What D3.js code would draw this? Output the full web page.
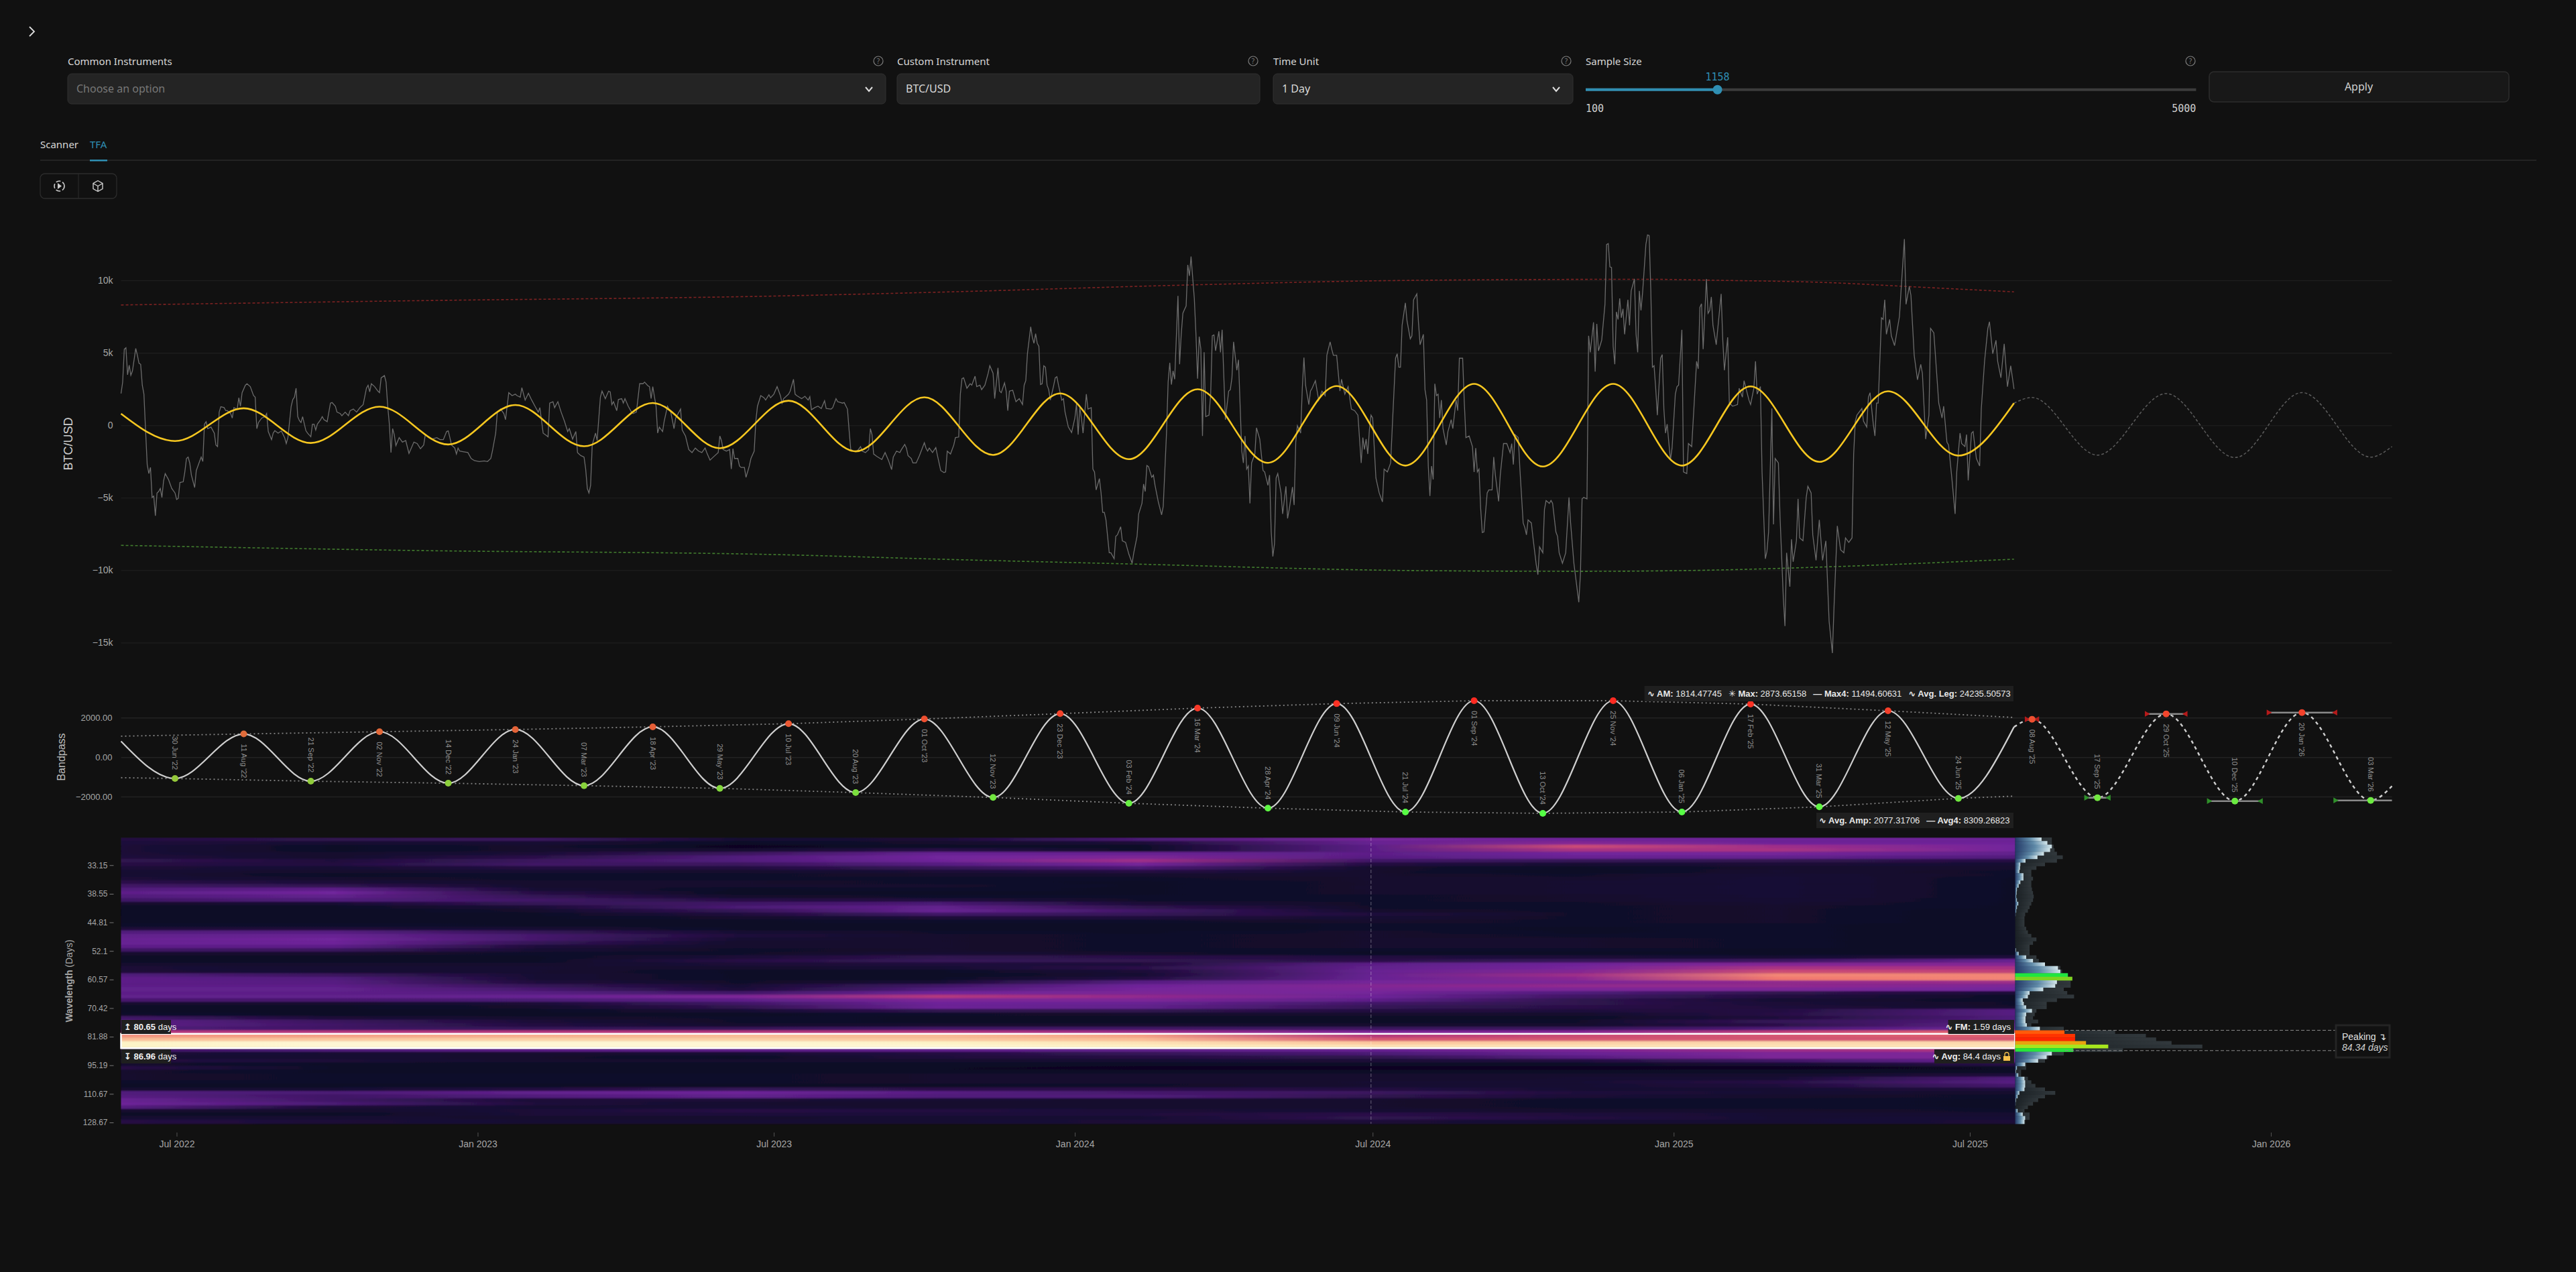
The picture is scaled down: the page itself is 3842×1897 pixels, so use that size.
<!DOCTYPE html>
<html>
<head>
<meta charset="utf-8">
<title>BTC/USD TFA</title>
<script src="https://cdnjs.cloudflare.com/ajax/libs/d3/7.8.5/d3.min.js"></script>
<style>
  html, body { margin: 0; padding: 0; background: #111; overflow: hidden; }
  svg { display: block; }
  text { font-family: "Liberation Sans", "DejaVu Sans", sans-serif; }
  .ui text, text.ui { font-family: "Noto Sans", sans-serif; }
  .mono { font-family: "DejaVu Sans Mono", monospace !important; }
  .tick text { font-family: "Liberation Sans", sans-serif; }
</style>
</head>
<body>
<div id="chart"></div>
<script>
// [day since the first sample, detrended price]
const priceSeries = [
[0,2190],[1,2975],[2,5250],[3,5350],[4,3490],[5,4150],[6,3450],[7,3760],[9,5310],[10,4830],[11,4280],[12,4210],[13,2770],[14,2150],[15,-330],[16,-2710],[17,-3330],[18,-2910],[19,-4980],[20,-4880],[21,-6240],[22,-4670],[23,-4570],[24,-4360],[25,-4980],[26,-3840],[27,-3330],[29,-3740],[30,-4050],[31,-4360],[33,-4670],[34,-5120],[35,-5040],[36,-3950],[38,-3900],[39,-3220],[40,-2290],[41,-2190],[42,-2600],[43,-3430],[45,-4300],[46,-3120],[48,-2500],[49,-2190],[50,-2500],[51,80],[52,250],[53,-230],[55,-120],[57,-540],[58,-1360],[59,-1470],[60,910],[61,1280],[63,1220],[64,1010],[65,1010],[67,810],[68,500],[69,1220],[71,1120],[72,1900],[73,1320],[74,2250],[76,2770],[77,2870],[79,2670],[81,2050],[82,1940],[83,-230],[84,190],[86,500],[88,600],[89,810],[90,-430],[92,-990],[93,-540],[94,-370],[96,-540],[98,-390],[100,-850],[101,-1260],[102,-850],[104,1320],[105,1780],[106,1940],[107,2560],[108,600],[109,330],[110,190],[111,600],[113,-370],[114,-540],[116,-790],[117,80],[118,80],[119,-330],[120,80],[122,390],[123,600],[124,390],[126,250],[128,1530],[129,1570],[131,1320],[132,910],[134,810],[135,660],[137,910],[139,660],[140,1010],[142,1120],[144,910],[146,1220],[148,1430],[150,2560],[151,2770],[152,2310],[153,2870],[155,2670],[157,2360],[158,2250],[159,3280],[161,3430],[162,2980],[163,1320],[164,80],[165,-1880],[166,-230],[167,-640],[168,-1400],[170,-850],[172,-1160],[174,-1050],[176,-1940],[179,-1160],[181,-1260],[183,-1610],[185,-1360],[186,-640],[188,-850],[190,-950],[193,-850],[195,-990],[197,-990],[199,-430],[200,-390],[201,-850],[202,-1360],[204,-1570],[205,-1980],[206,-1570],[207,-1780],[209,-1820],[212,-1880],[214,-2290],[216,-2440],[219,-2500],[222,-2460],[224,-2500],[226,-2290],[227,-1780],[229,-540],[230,910],[232,1120],[234,810],[235,390],[237,2250],[238,2150],[239,2050],[241,2150],[242,2050],[244,1940],[245,2600],[247,1740],[249,2210],[251,1740],[253,1320],[255,910],[256,1220],[258,-540],[260,-700],[261,-790],[262,1530],[264,1630],[265,1220],[267,1630],[269,910],[271,290],[273,-430],[274,-230],[276,-950],[278,-430],[279,-1880],[281,-2090],[283,-2190],[284,-3020],[285,-4360],[286,-4670],[287,-4150],[288,-1360],[290,-540],[291,-1050],[293,1940],[294,2360],[296,1840],[298,2360],[299,2310],[300,1430],[301,1630],[303,1010],[304,1780],[306,1840],[307,1530],[308,1840],[310,1320],[312,910],[313,810],[315,910],[317,2870],[319,2870],[320,2980],[322,2730],[323,2670],[324,1840],[325,2670],[327,1320],[328,-540],[329,-120],[331,-430],[332,290],[334,1320],[336,910],[338,-230],[339,500],[342,1120],[343,-330],[345,-740],[347,-1670],[349,-1880],[351,-1570],[353,-1780],[355,-1880],[357,-1570],[358,-1880],[360,-2400],[362,-2190],[365,-1880],[366,-740],[367,-1050],[368,-1670],[370,-1780],[372,-1670],[373,-3020],[374,-1610],[375,-2290],[377,-2290],[378,-2810],[379,-2910],[381,-2910],[382,-3590],[384,-2810],[385,-2290],[387,-1780],[388,290],[389,1320],[391,2050],[393,1900],[394,1740],[396,2110],[397,1900],[399,2150],[401,2670],
[403,2050],[404,1530],[405,1840],[408,2150],[409,2360],[411,3180],[412,2150],[413,2050],[416,1840],[418,2000],[420,1740],[421,1980],[422,1070],[424,1220],[426,1320],[428,1160],[430,1690],[431,1160],[434,1120],[435,1220],[437,1840],[438,1630],[441,1530],[442,1570],[444,1120],[445,-330],[446,-1670],[448,-1780],[450,-1780],[452,-1470],[453,-1780],[455,-1880],[457,-1670],[458,-230],[459,-640],[460,-1980],[462,-2150],[464,-2290],[465,-2360],[467,-1880],[469,-2400],[471,-3060],[472,-2190],[474,-1780],[476,-1880],[477,-1670],[479,-1320],[480,-1570],[481,-2090],[483,-2290],[484,-2600],[486,-2600],[488,-2090],[491,-1200],[492,-1570],[493,-1780],[494,-1570],[496,-1880],[498,-1530],[499,-2090],[501,-3120],[503,-3260],[504,-3220],[505,-1780],[507,-1980],[509,-1360],[510,-850],[512,-810],[513,2150],[514,3220],[515,3280],[517,2560],[519,2870],[520,2770],[522,3390],[523,2670],[525,2770],[526,2460],[528,2770],[530,3590],[531,4110],[533,3590],[534,1840],[536,3970],[537,2360],[538,2250],[540,2930],[541,2360],[542,1010],[543,2360],[545,2420],[547,1630],[549,1840],[551,1430],[552,2770],[553,3080],[554,4940],[556,6800],[557,6070],[558,5660],[559,6320],[560,5660],[561,5450],[562,2810],[563,2870],[564,4110],[565,4010],[566,2770],[567,2460],[568,1740],[570,2730],[571,3280],[572,3350],[573,2770],[575,1740],[576,1840],[577,910],[579,-120],[581,-500],[583,500],[584,1490],[585,-640],[586,1220],[587,500],[588,-540],[590,2150],[591,1120],[593,1220],[594,-3020],[595,-3220],[596,-4460],[598,-3680],[599,-4670],[600,-6010],[601,-6010],[602,-6530],[604,-8800],[605,-8800],[607,-9210],[608,-7660],[609,-7560],[611,-7000],[612,-7970],[614,-8080],[616,-8900],[618,-9520],[619,-8800],[621,-7660],[622,-6120],[624,-5390],[625,-4050],[626,-4570],[627,-2770],[628,-2850],[630,-3590],[631,-3430],[632,-4150],[634,-5290],[636,-6180],[637,-5600],[639,-540],[640,2980],[641,4320],[642,2810],[643,3760],[644,3180],[646,8930],[647,4210],[648,6280],[649,7730],[650,8000],[651,8240],[652,11070],[653,10310],[654,11650],[656,8760],[657,6280],[658,3220],[659,6120],[660,5250],[661,-740],[662,5040],[663,600],[665,700],[666,2150],[667,6180],[668,6240],[669,5140],[671,6490],[672,5040],[673,6590],[675,390],[677,2360],[678,2460],[679,3280],[680,5760],[682,3800],[683,4520],[685,-1780],[686,-2600],[687,-740],[688,-3020],[689,-2810],[690,-5390],[691,-2600],[693,-1980],[694,-170],[696,-950],[698,-3120],[699,-3220],[701,-4150],[702,-3430],[703,-7360],[704,-9050],[705,-8180],[706,-3640],[707,-3330],[709,-4670],[710,-6120],[712,-4210],[713,-6430],[714,-5810],[716,-4260],[717,-5500],[718,-1160],[719,-20],[721,-540],[722,2560],[723,4670],[724,2770],[726,1430],[727,2360],[728,2560],[730,3080],[732,1740],[734,2360],[736,2050],[737,4830],[739,5760],[740,5250],[741,4830],[743,4830],[745,2360],[746,3180],[748,2150],[750,2670],[752,1120],[754,1010],[756,700],[758,-2600],[759,-850],[760,-1670],[761,-950],[762,-1980],[763,-330],[764,700],[765,500],[767,-3640],[769,-4670],[771,-5290],[772,-3020],[774,-3220],[776,-2600],[777,-120],[779,4630],[780,4940],[781,4010],[782,4010],[783,6900],[785,8450],[786,7210],
[787,6590],[788,5970],[789,6180],[790,8660],[792,9070],[793,7110],[794,5560],[796,6280],[797,2460],[798,1740],[799,-2810],[800,-4880],[801,-2810],[802,-3740],[803,2870],[804,2050],[805,2150],[806,500],[807,1740],[808,-230],[810,-1360],[811,-430],[813,390],[814,-230],[816,1740],[817,1010],[818,4630],[820,4630],[821,1630],[822,-850],[824,-740],[826,-1470],[827,-3220],[828,-1570],[829,-3220],[830,-3020],[831,-5700],[832,-7400],[833,-7360],[835,-4670],[836,-4460],[838,-4460],[839,-2190],[840,-3430],[842,-5250],[843,-3430],[845,-1260],[847,-1260],[849,-1880],[850,-1260],[851,-2710],[852,-640],[854,-850],[855,-3020],[857,-6740],[858,-7050],[859,-7560],[860,-6530],[862,-6740],[863,-7770],[865,-9630],[866,-10310],[867,-8390],[869,-8800],[870,-5810],[871,-5190],[873,-5390],[874,-5190],[875,-5390],[877,-7360],[878,-7660],[879,-8800],[881,-9520],[883,-8800],[885,-4980],[886,-6740],[888,-9520],[891,-12210],[892,-10250],[893,-5080],[894,-4980],[896,-5080],[897,6180],[898,5040],[900,7110],[901,3700],[902,7000],[903,5140],[905,5870],[907,8350],[908,12480],[909,12540],[910,10930],[911,10890],[912,5450],[913,4210],[914,7830],[915,7310],[916,8760],[917,7420],[918,8040],[919,6280],[921,8660],[922,6900],[923,9280],[925,10100],[926,6280],[927,5040],[928,9280],[929,7930],[930,9170],[932,12480],[933,13140],[934,13100],[935,9380],[936,4010],[937,4110],[938,2560],[939,700],[941,4630],[942,4880],[943,1120],[944,-540],[945,80],[947,-2400],[948,-1570],[950,2150],[951,2670],[952,2770],[954,6590],[955,-3220],[957,-3330],[958,-1260],[960,-1470],[963,4420],[964,3900],[965,8140],[966,8390],[967,5250],[969,10100],[970,7730],[971,7930],[972,8860],[973,6900],[975,5560],[978,9070],[979,5870],[980,3800],[982,6070],[983,1530],[985,1320],[988,1430],[989,2560],[991,1940],[992,3080],[995,1740],[996,1430],[998,2560],[999,4420],[1000,2150],[1002,2670],[1003,-3220],[1005,-9210],[1006,-8700],[1007,-7360],[1009,1160],[1010,-6840],[1011,-2290],[1013,-2600],[1014,-6320],[1016,-11900],[1017,-13860],[1018,-8800],[1020,-11140],[1021,-7870],[1022,-9420],[1024,-7970],[1025,-5080],[1026,-7770],[1028,-7970],[1030,-4980],[1031,-4210],[1033,-4670],[1034,-7560],[1036,-9320],[1038,-6530],[1040,-9320],[1042,-7970],[1044,-13550],[1046,-15720],[1047,-12520],[1049,-6940],[1051,-8590],[1053,-8800],[1054,-7770],[1056,-8080],[1058,-7770],[1059,-1980],[1060,290],[1061,700],[1064,1160],[1065,290],[1067,-120],[1068,1940],[1069,2250],[1071,80],[1072,-740],[1073,1530],[1074,1530],[1076,7420],[1077,7310],[1078,8660],[1079,6280],[1081,7310],[1082,6180],[1084,5500],[1087,7520],[1088,9380],[1090,12850],[1091,8350],[1093,9590],[1094,8970],[1096,4830],[1098,3140],[1100,4210],[1101,3590],[1103,-950],[1105,700],[1106,6690],[1108,6380],[1111,1530],[1113,500],[1114,1320],[1116,-1160],[1117,-1360],[1119,-3640],[1121,-6120],[1122,-3220],[1124,-540],[1125,-1260],[1127,-1470],[1128,-640],[1129,-3800],[1131,-540],[1132,-430],[1134,-2290],[1136,-2810],[1137,1120],[1139,4420],[1140,5560],[1141,6690],[1142,7150],[1144,4940],[1146,5870],[1147,4420],[1149,3280],[1151,5620],[1153,2670],[1155,4110],[1157,2500]
];

// upper and lower 4x amplitude bounds
const upperBound = [[0,8305],[180,8600],[401,8925],[507,9210],[654,9690],[786,10000],[933,10080],[969,10020],[1048,9830],[1090,9590],[1157,9210]];
const lowerBound = [[0,-8285],[180,-8640],[401,-8925],[507,-9260],[617,-9570],[786,-10020],[891,-10080],[969,-10000],[1048,-9750],[1157,-9240]];

// bandpass turning points
const extremaDates = ["30 Jun '22","11 Aug '22","21 Sep '22","02 Nov '22","14 Dec '22","24 Jan '23","07 Mar '23","18 Apr '23","29 May '23","10 Jul '23","20 Aug '23","01 Oct '23","12 Nov '23","23 Dec '23","03 Feb '24","16 Mar '24","28 Apr '24","09 Jun '24","21 Jul '24","01 Sep '24","13 Oct '24","25 Nov '24","06 Jan '25","17 Feb '25","31 Mar '25","12 May '25","24 Jun '25","08 Aug '25","17 Sep '25","29 Oct '25","10 Dec '25","20 Jan '26","03 Mar '26"];
const extremaValues = [-1085,1175,-1220,1288,-1322,1401,-1446,1537,-1582,1695,-1797,1932,-2045,2203,-2339,2486,-2588,2712,-2780,2859,-2847,2859,-2780,2689,-2520,2350,-2090,1920,-2056,2192,-2226,2260,-2192];
const forecastSpread = [3.3,7,12,16,20.5,21.7];
const bandStart = [0,802];
const bandNow = [1157,1530];
const bandEnd = [1388,-1469];
const edgeTopEnds = [[0,1062],[1157,2011]];
const edgeBottomEnds = [[0,-1040],[1157,-1977]];

// wavelength of each heatmap row (top edge), last entry closes the final row
const rowPeriods = [28.65,29.19,29.75,30.31,30.89,31.48,32.07,32.68,33.3,33.94,34.58,35.24,35.91,36.59,37.29,38,38.72,39.45,40.2,40.97,41.75,42.54,43.35,44.17,45.01,45.87,46.74,47.63,48.53,49.46,50.4,51.35,52.33,53.32,54.34,55.37,56.42,57.49,58.59,59.7,60.83,61.99,63.17,64.37,65.59,66.84,68.11,69.4,70.72,72.06,73.43,74.83,76.25,77.7,79.17,80.68,82.21,83.77,85.36,86.98,88.64,90.32,92.04,93.79,95.57,97.38,99.23,101.12,103.04,105,107,109,111.1,113.2,115.4,117.6,119.8,122.1,124.4,126.8,129.6];
const columnDays = [0,130,254,377,500,623,766,889,1012,1158];
// power by row (top to bottom) at each of the columnDays, 0-100
const powerRows = [
[18,24,28,12,14,34,48,46,46,46],[16,12,12,8,10,14,44,52,46,46],[14,8,10,6,8,8,40,66,58,47],[14,8,10,10,20,8,40,60,60,47],
[14,10,14,28,44,44,40,47,48,42],[16,10,22,36,47,50,38,44,42,36],[24,16,28,36,46,58,30,26,24,20],[20,18,30,28,38,48,18,12,14,12],
[14,12,18,18,26,34,10,8,10,10],[12,10,12,10,14,20,10,7,11,9],[12,8,9,9,10,10,10,9,12,9],[14,10,9,9,9,9,10,10,13,8],
[22,14,10,10,9,8,10,11,13,8],[30,24,10,10,10,8,10,11,13,8],[36,40,12,8,9,8,10,11,13,8],[40,47,20,7,8,8,10,11,13,8],
[36,42,26,10,9,9,9,10,13,8],[30,36,30,20,16,9,9,10,12,8],[10,12,26,30,34,14,9,9,11,8],[8,8,14,34,42,24,9,9,10,8],
[7,7,10,26,44,30,10,9,10,7],[7,7,8,16,30,26,16,9,10,7],[8,8,8,10,14,16,12,9,10,7],[8,8,8,8,9,9,10,9,10,7],
[9,9,8,8,8,7,9,9,9,7],[14,14,12,8,8,7,9,8,9,7],[36,38,26,12,9,8,10,8,9,7],[42,44,32,16,10,9,10,9,9,7],
[44,47,32,12,10,9,10,10,9,7],[44,46,26,10,10,9,10,10,9,7],[40,40,16,10,10,9,10,10,9,7],[30,28,12,9,10,9,9,9,8,7],
[10,10,9,9,12,10,8,8,8,8],[8,8,8,14,24,22,18,14,12,16],[8,8,8,20,26,24,22,26,28,44],[10,10,10,14,16,16,40,46,52,52],
[14,11,11,10,12,22,42,48,60,60],[14,12,11,8,8,14,44,52,66,64],[36,28,12,8,7,12,44,58,76,76],[40,36,12,8,8,18,44,54,74,76],
[40,38,16,9,12,38,48,50,56,58],[40,40,26,12,30,46,52,56,56,50],[42,42,32,14,36,48,50,50,50,47],[40,40,38,30,46,50,48,36,24,14],
[42,42,44,50,62,56,46,30,18,8],[32,32,34,40,50,50,40,24,12,8],[10,10,14,30,46,44,30,24,14,9],[8,8,10,24,46,42,26,22,16,10],
[8,8,8,12,24,24,18,16,18,38],[9,8,8,8,9,10,10,10,20,38],[30,14,10,9,8,8,8,8,16,36],[40,28,14,9,8,8,8,9,26,36],
[40,30,18,10,10,10,10,10,22,42],[36,30,26,26,30,30,28,28,34,46],[62,62,62,62,62,58,50,52,64,72],[78,80,82,84,84,80,62,66,68,70],
[84,86,88,88,86,84,68,68,68,68],[96,97,97,97,96,92,86,88,90,90],[96,97,97,97,97,95,92,92,92,92],[30,36,40,42,42,42,44,50,58,62],
[14,12,10,12,18,26,34,44,50,50],[12,12,10,8,16,20,24,38,50,50],[18,14,10,10,10,12,14,18,30,46],[10,8,8,8,8,7,8,8,12,20],
[20,8,8,7,7,6,6,6,6,7],[10,8,8,7,7,7,7,7,8,7],[10,9,9,9,10,10,10,10,10,16],[10,9,9,9,10,10,10,11,12,36],
[9,9,9,9,10,10,11,12,20,38],[8,8,8,8,8,9,11,12,16,32],[10,12,18,26,22,22,18,12,12,16],[36,34,42,46,38,32,28,16,12,10],
[38,30,36,42,36,36,24,14,10,9],[44,30,14,14,12,10,10,9,9,8],[46,34,16,11,10,10,10,9,9,8],[38,14,12,12,10,10,10,9,9,8],
[10,10,14,20,18,14,12,10,10,9],[8,8,14,16,16,16,22,16,12,12],[12,12,10,10,12,12,24,18,12,13],[20,14,12,12,12,14,14,12,12,14]
];

// spectrum on the right, same rows as the heatmap
const spectrumNow = [77,94,107,102,84,65,30,15,14,12,24,24,15,10,5,4,3,5,9,5,3,1,0,0,0,0,0,0,0,0,0,2,10,32,52,87,125,132,154,167,122,117,82,42,37,22,25,32,49,32,30,30,34,72,144,175,175,207,272,170,107,92,67,29,5,2,9,27,29,29,27,12,7,2,1,0,7,22,29,27];
const spectrumAvg = [107,107,112,115,122,139,122,87,62,47,47,52,47,47,49,52,54,52,47,42,37,29,27,27,27,32,37,47,62,52,42,42,42,62,69,87,132,137,154,167,162,162,142,152,172,122,92,92,62,57,52,67,47,142,292,382,412,457,547,315,142,97,87,32,32,17,17,37,47,59,87,117,87,67,52,37,27,42,42,29];
const spectrumColors = {38:"#1fe640",39:"#7ed321",54:"#ff5a0a",55:"#ff3300",56:"#ff2400",57:"#e8a30f",58:"#a6e61e",59:"#27e63c"};

const priceTicks = [-15000,-10000,-5000,0,5000,10000];
const bandTicks = [-2000,0,2000];
const periodTicks = [33.15,38.55,44.81,52.1,60.57,70.42,81.88,95.19,110.67,128.67];
const timeTicks = ["2022-07-01","2023-01-01","2023-07-01","2024-01-01","2024-07-01","2025-01-01","2025-07-01","2026-01-01"];
const lockedBand = [80.65,86.96];
const peakBand = [79.17,88.1];

const width = 3842, height = 1897;
const firstDay = new Date(2022, 4, 28);
const dayDate = (d) => d3.timeDay.offset(firstDay, d);
const parseLabel = d3.timeParse("%d %b '%y");
const parseTick = d3.timeParse("%Y-%m-%d");

const svg = d3.select("#chart").append("svg")
  .attr("width", width).attr("height", height)
  .style("background", "#111");
const defs = svg.append("defs");

const x = d3.scaleTime().domain([firstDay, dayDate(1388)]).range([180.5, 3567.5]);
const yPrice = d3.scaleLinear().domain([-15000, 10000]).range([958.4, 418.2]);
const yBand = d3.scaleLinear().domain([-2000, 2000]).range([1188, 1070.3]);
const yPeriod = d3.scaleLog().domain([28.65, 129.6]).range([1249, 1676]);
const xSpectrum = d3.scaleLinear().domain([0, 547]).range([3005.6, 3284.7]);
const powerColor = d3.scaleLinear()
  .domain([0, 5, 12, 22, 36, 47, 56, 63, 73, 85, 96, 100])
  .range(["#05031a","#08051f","#170c33","#2a1148","#511c7c","#71259c","#92298e","#bb3a7b","#f0716a","#fcc39a","#fdf3c6","#ffffff"])
  .clamp(true);

/************ header controls ************/
const ui = svg.append("g").attr("class", "ui");

function helpIcon(cx, cy) {
  ui.append("circle").attr("cx", cx).attr("cy", cy).attr("r", 7)
    .attr("fill", "none").attr("stroke", "#7d7d7d").attr("stroke-width", 1.2);
  ui.append("text").attr("x", cx).attr("y", cy + 3.5).attr("text-anchor", "middle")
    .attr("font-size", 10).attr("fill", "#7d7d7d").text("?");
}
function chevron(cx, cy) {
  ui.append("path").attr("d", `M${cx - 5},${cy - 3}L${cx},${cy + 3}L${cx + 5},${cy - 3}`)
    .attr("fill", "none").attr("stroke", "#ddd").attr("stroke-width", 2);
}
function field(left, right, label, value, valueColor, hasChevron) {
  ui.append("text").attr("x", left).attr("y", 97).attr("font-size", 15).attr("fill", "#d8d8d8").text(label);
  ui.append("rect").attr("x", left).attr("y", 110).attr("width", right - left).attr("height", 45).attr("rx", 6)
    .attr("fill", "#242424").attr("stroke", "#303030");
  ui.append("text").attr("x", left + 13).attr("y", 138).attr("font-size", 16).attr("fill", valueColor).text(value);
  if (hasChevron) chevron(right - 25, 133);
}

ui.append("path").attr("d", "M44,40L51,47L44,54").attr("fill", "none").attr("stroke", "#ddd").attr("stroke-width", 1.8);
field(101, 1321, "Common Instruments", "Choose an option", "#777", true);
field(1338, 1879, "Custom Instrument", "BTC/USD", "#d8d8d8", false);
field(1899, 2346, "Time Unit", "1 Day", "#d8d8d8", true);
helpIcon(1310, 91); helpIcon(1869, 91); helpIcon(2336, 91); helpIcon(3267, 91);

ui.append("text").attr("x", 2365).attr("y", 97).attr("font-size", 15).attr("fill", "#d8d8d8").text("Sample Size");
const xSlider = d3.scaleLinear().domain([100, 5000]).range([2365, 3275.4]);
ui.append("rect").attr("x", xSlider(100)).attr("y", 131.7).attr("width", xSlider(5000) - xSlider(100)).attr("height", 4).attr("fill", "#3c3c3c");
ui.append("rect").attr("x", xSlider(100)).attr("y", 131.7).attr("width", xSlider(1158) - xSlider(100)).attr("height", 4).attr("fill", "#2f8fb3");
ui.append("circle").attr("cx", xSlider(1158)).attr("cy", 133.7).attr("r", 7).attr("fill", "#2f8fb3");
ui.append("text").attr("class", "mono").attr("x", xSlider(1158)).attr("y", 120).attr("text-anchor", "middle").attr("font-size", 15).attr("fill", "#2f8fb3").text("1158");
ui.append("text").attr("class", "mono").attr("x", xSlider(100)).attr("y", 167).attr("font-size", 15).attr("fill", "#cfcfcf").text("100");
ui.append("text").attr("class", "mono").attr("x", xSlider(5000)).attr("y", 167).attr("text-anchor", "end").attr("font-size", 15).attr("fill", "#cfcfcf").text("5000");

ui.append("rect").attr("x", 3295).attr("y", 107).attr("width", 447).attr("height", 45).attr("rx", 7).attr("fill", "#181818").attr("stroke", "#2c2c2c").attr("stroke-width", 1.5);
ui.append("text").attr("x", 3518).attr("y", 135).attr("text-anchor", "middle").attr("font-size", 16).attr("fill", "#d0d0d0").text("Apply");

ui.append("text").attr("x", 60).attr("y", 221).attr("font-size", 15).attr("fill", "#d8d8d8").text("Scanner");
ui.append("text").attr("x", 134).attr("y", 221).attr("font-size", 15).attr("fill", "#2f8fb3").text("TFA");
ui.append("rect").attr("x", 60).attr("y", 238).attr("width", 3723).attr("height", 2).attr("fill", "#232323");
ui.append("rect").attr("x", 134).attr("y", 238).attr("width", 26).attr("height", 2.5).attr("fill", "#2f8fb3");

ui.append("rect").attr("x", 60).attr("y", 259).attr("width", 114).attr("height", 37).attr("rx", 7).attr("fill", "none").attr("stroke", "#2c2c2c").attr("stroke-width", 1.3);
ui.append("line").attr("x1", 117).attr("x2", 117).attr("y1", 259).attr("y2", 296).attr("stroke", "#2c2c2c");
ui.append("circle").attr("cx", 88.5).attr("cy", 277.5).attr("r", 7.5).attr("fill", "none").attr("stroke", "#ccc").attr("stroke-width", 1.6).attr("stroke-dasharray", "7,3");
ui.append("path").attr("d", "M86,273L92,277.5L86,282Z").attr("fill", "#ccc");
ui.append("path").attr("d", "M146,269.5L153,273.5V281.5L146,285.5L139,281.5V273.5ZM139,273.5L146,277.5L153,273.5M146,277.5V285.5")
  .attr("fill", "none").attr("stroke", "#ccc").attr("stroke-width", 1.4);

/************ price panel ************/
const pricePanel = svg.append("g");
const priceAxis = pricePanel.append("g")
  .attr("transform", `translate(${x.range()[0]},0)`)
  .call(d3.axisLeft(yPrice).tickValues(priceTicks).tickSize(-(x.range()[1] - x.range()[0])).tickPadding(12)
    .tickFormat((d) => (d === 0 ? "0" : `${d < 0 ? "−" : ""}${Math.abs(d) / 1000}k`)));
styleAxis(priceAxis, 14);
priceAxis.selectAll(".tick line").attr("stroke", "#222");

pricePanel.append("text")
  .attr("transform", "translate(108,662) rotate(-90)")
  .attr("text-anchor", "middle").attr("font-size", 18).attr("fill", "#cfcfcf").text("BTC/USD");

const lineByDay = d3.line().x((d) => x(dayDate(d[0])));
const priceLine = lineByDay.y((d) => yPrice(d[1]));

pricePanel.append("path").attr("d", priceLine.curve(d3.curveMonotoneX)(upperBound))
  .attr("fill", "none").attr("stroke", "#7c2222").attr("stroke-width", 1.6).attr("stroke-dasharray", "4,3");
pricePanel.append("path").attr("d", priceLine(lowerBound))
  .attr("fill", "none").attr("stroke", "#417c2e").attr("stroke-width", 1.6).attr("stroke-dasharray", "4,3");
pricePanel.append("path").attr("d", priceLine.curve(d3.curveLinear)(priceSeries))
  .attr("fill", "none").attr("stroke", "#6c6c6c").attr("stroke-width", 1.3);

// turning points joined up for the fitted wave
const extrema = extremaDates.map((label, i) => ({
  date: parseLabel(label), value: extremaValues[i], label: label,
  peak: extremaValues[i] > 0, forecast: i >= 27, spread: i >= 27 ? forecastSpread[i - 27] : 0,
}));
const wavePast = [{ date: dayDate(bandStart[0]), value: bandStart[1] }]
  .concat(extrema.filter((d) => !d.forecast), [{ date: dayDate(bandNow[0]), value: bandNow[1] }]);
const waveNext = [{ date: dayDate(bandNow[0]), value: bandNow[1] }]
  .concat(extrema.filter((d) => d.forecast), [{ date: dayDate(bandEnd[0]), value: bandEnd[1] }]);

const wavePrice = d3.line().x((d) => x(d.date)).y((d) => yPrice(d.value)).curve(d3.curveMonotoneX);
pricePanel.append("path").attr("d", wavePrice(waveNext))
  .attr("fill", "none").attr("stroke", "#5c5c5c").attr("stroke-width", 1.5).attr("stroke-dasharray", "4,3");
pricePanel.append("path").attr("d", wavePrice(wavePast))
  .attr("fill", "none").attr("stroke", "#f6c720").attr("stroke-width", 2.6).attr("stroke-linejoin", "round");

/************ bandpass panel ************/
const bandPanel = svg.append("g");
const bandAxis = bandPanel.append("g")
  .attr("transform", `translate(${x.range()[0]},0)`)
  .call(d3.axisLeft(yBand).tickValues(bandTicks).tickSize(-(x.range()[1] - x.range()[0])).tickPadding(13)
    .tickFormat(d3.format(".2f")));
styleAxis(bandAxis, 13);
bandAxis.selectAll(".tick line").attr("stroke", "#232323").attr("stroke-width", 1.5);

bandPanel.append("text")
  .attr("transform", "translate(97,1129) rotate(-90)")
  .attr("text-anchor", "middle").attr("font-size", 16).attr("fill", "#bcbcbc").text("Bandpass");

const waveBand = d3.line().x((d) => x(d.date)).y((d) => yBand(d.value)).curve(d3.curveMonotoneX);
const edgeBand = d3.line().x((d) => x(d.date)).y((d) => yBand(d.value));
const edgePoints = (ends, keep) => [{ date: dayDate(ends[0][0]), value: ends[0][1] }]
  .concat(extrema.filter((d) => !d.forecast && keep(d)), [{ date: dayDate(ends[1][0]), value: ends[1][1] }]);

[edgePoints(edgeTopEnds, (d) => d.peak), edgePoints(edgeBottomEnds, (d) => !d.peak)].forEach((pts) => {
  bandPanel.append("path").attr("d", edgeBand(pts))
    .attr("fill", "none").attr("stroke", "#858585").attr("stroke-width", 1.8).attr("stroke-dasharray", "2,4");
});

bandPanel.append("path").attr("d", waveBand(wavePast))
  .attr("fill", "none").attr("stroke", "#cfcfcf").attr("stroke-width", 2.2);
bandPanel.append("path").attr("d", waveBand(waveNext))
  .attr("fill", "none").attr("stroke", "#cfcfcf").attr("stroke-width", 2.4).attr("stroke-dasharray", "5,5");

// error bars on the projected turning points
const projected = extrema.filter((d) => d.forecast);
bandPanel.selectAll(".spread").data(projected).enter().append("line")
  .attr("x1", (d) => x(d3.timeHour.offset(d.date, -24 * d.spread)))
  .attr("x2", (d) => Math.min(x(d3.timeHour.offset(d.date, 24 * d.spread)), x.range()[1]))
  .attr("y1", (d) => yBand(d.value)).attr("y2", (d) => yBand(d.value))
  .attr("stroke", "#8a8a8a").attr("stroke-width", 2.5);
const capShape = d3.symbol().type(d3.symbolTriangle).size(34);
[-1, 1].forEach((side) => {
  bandPanel.selectAll(`.cap${side}`).data(projected.filter((d) => side < 0 || d.label !== "03 Mar '26")).enter().append("path")
    .attr("d", capShape)
    .attr("fill", (d) => (d.peak ? "#b51a1a" : "#2f8f2a"))
    .attr("transform", (d) => `translate(${x(d3.timeHour.offset(d.date, 24 * side * d.spread))},${yBand(d.value)}) rotate(${side < 0 ? 90 : -90})`);
});

const peakColor = d3.scaleLinear().domain([1100, 2860]).range(["#df6f3c", "#ff2b22"]);
const troughColor = d3.scaleLinear().domain([1100, 2850]).range(["#94c83a", "#55ff45"]);
bandPanel.selectAll(".turn").data(extrema).enter().append("circle")
  .attr("cx", (d) => x(d.date)).attr("cy", (d) => yBand(d.value)).attr("r", 5)
  .attr("fill", (d) => (d.peak ? peakColor(d.value) : troughColor(-d.value)));
bandPanel.selectAll(".turn-label").data(extrema).enter().append("text")
  .attr("transform", (d) => `translate(${x(d.date) - 4},${yBand(d.value) + (d.peak ? 15 : -13)}) rotate(90)`)
  .attr("text-anchor", (d) => (d.peak ? "start" : "end"))
  .attr("font-size", 11).attr("fill", "#8f8f8f").text((d) => d.label);

function statBox(left, right, top, bottom, parts, anchorX) {
  svg.append("rect").attr("x", left).attr("y", top).attr("width", right - left).attr("height", bottom - top).attr("fill", "#1f1f1f");
  const t = svg.append("text").attr("x", anchorX).attr("y", (top + bottom) / 2 + 4.5)
    .attr("font-size", 13).attr("fill", "#e8e8e8");
  parts.forEach((p) => t.append("tspan").attr("font-weight", p[1] ? "bold" : "normal").attr("dx", p[2] || 0).text(p[0]));
}
statBox(2452.6, 3003, 1023, 1046, [
  ["∿ AM: ", 1], ["1814.47745", 0], ["✳ Max: ", 1, 10], ["2873.65158", 0], ["— Max4: ", 1, 10], ["11494.60631", 0], ["∿ Avg. Leg: ", 1, 10], ["24235.50573", 0],
], 2457);
statBox(2709, 3003, 1212, 1235, [
  ["∿ Avg. Amp: ", 1], ["2077.31706", 0], ["— Avg4: ", 1, 10], ["8309.26823", 0],
], 2713);

/************ wavelet heatmap ************/
const heat = svg.append("g");
const heatRows = powerRows.map((powers, i) => ({ i: i, powers: powers, top: rowPeriods[i], bottom: rowPeriods[i + 1] }));
const heatLeft = x(dayDate(0)), heatRight = x(dayDate(1158));

defs.append("filter").attr("id", "soften")
  .attr("x", 0).attr("y", 0).attr("width", 1).attr("height", 1)
  .append("feGaussianBlur").attr("stdDeviation", "0 1.3");

heatRows.forEach((row) => {
  const grad = defs.append("linearGradient").attr("id", `row${row.i}`);
  row.powers.forEach((p, j) => {
    grad.append("stop")
      .attr("offset", (x(dayDate(columnDays[j])) - heatLeft) / (heatRight - heatLeft))
      .attr("stop-color", powerColor(p));
  });
});
heat.append("g").attr("filter", "url(#soften)")
  .selectAll(".row").data(heatRows).enter().append("rect")
  .attr("x", heatLeft).attr("width", heatRight - heatLeft)
  .attr("y", (d) => yPeriod(d.top))
  .attr("height", (d) => yPeriod(d.bottom) - yPeriod(d.top) + 0.4)
  .attr("fill", (d) => `url(#row${d.i})`);

heat.append("line")
  .attr("x1", x(dayDate(764))).attr("x2", x(dayDate(764)))
  .attr("y1", yPeriod.range()[0]).attr("y2", yPeriod.range()[1])
  .attr("stroke", "rgba(255,255,255,0.35)").attr("stroke-dasharray", "5,3");

heat.append("rect")
  .attr("x", heatLeft).attr("width", heatRight - heatLeft - 1)
  .attr("y", yPeriod(lockedBand[0])).attr("height", yPeriod(lockedBand[1]) - yPeriod(lockedBand[0]))
  .attr("fill", "none").attr("stroke", "#fff").attr("stroke-width", 2.5);

const periodAxis = heat.append("g")
  .attr("transform", "translate(169.5,0)")
  .call(d3.axisLeft(yPeriod).tickValues(periodTicks).tickSize(6).tickPadding(3).tickFormat((d) => String(d)));
styleAxis(periodAxis, 12);
periodAxis.selectAll(".tick line").attr("stroke", "#777");

const periodTitle = heat.append("text")
  .attr("transform", "translate(108,1463) rotate(-90)")
  .attr("text-anchor", "middle").attr("font-size", 14).attr("fill", "#a8a8a8");
periodTitle.append("tspan").attr("font-weight", "bold").text("Wavelength");
periodTitle.append("tspan").text(" (Days)");

const timeAxis = heat.append("g")
  .attr("transform", "translate(0,1689)")
  .call(d3.axisBottom(x).tickValues(timeTicks.map(parseTick)).tickSize(6).tickPadding(6).tickFormat(d3.timeFormat("%b %Y")));
styleAxis(timeAxis, 14);
timeAxis.selectAll(".tick line").attr("stroke", "#555");

/************ spectrum ************/
const blueFade = defs.append("linearGradient").attr("id", "blueFade");
blueFade.append("stop").attr("offset", 0).attr("stop-color", "#243a68");
blueFade.append("stop").attr("offset", 0.55).attr("stop-color", "#5f8aa8");
blueFade.append("stop").attr("offset", 1).attr("stop-color", "#d2e5ea");
const greyFade = defs.append("linearGradient").attr("id", "greyFade");
greyFade.append("stop").attr("offset", 0).attr("stop-color", "#1a2024");
greyFade.append("stop").attr("offset", 1).attr("stop-color", "#31383c");

const spectrum = svg.append("g");
const rowTop = (i) => yPeriod(rowPeriods[i]);
const rowH = (i) => yPeriod(rowPeriods[i + 1]) - yPeriod(rowPeriods[i]) + 0.3;
spectrum.selectAll(".avg").data(spectrumAvg).enter().append("rect")
  .attr("x", xSpectrum(0)).attr("y", (d, i) => rowTop(i)).attr("height", (d, i) => rowH(i))
  .attr("width", (d) => xSpectrum(d) - xSpectrum(0)).attr("fill", "url(#greyFade)");
spectrum.selectAll(".now").data(spectrumNow).enter().append("rect")
  .attr("x", xSpectrum(0)).attr("y", (d, i) => rowTop(i)).attr("height", (d, i) => rowH(i))
  .attr("width", (d) => xSpectrum(d) - xSpectrum(0))
  .attr("fill", (d, i) => spectrumColors[i] || "url(#blueFade)");

[peakBand[0], peakBand[1]].forEach((p) => {
  spectrum.append("line").attr("x1", 3080).attr("x2", 3484)
    .attr("y1", yPeriod(p)).attr("y2", yPeriod(p))
    .attr("stroke", "#8a8a8a").attr("stroke-dasharray", "5,3");
});
spectrum.append("rect").attr("x", 3484).attr("y", 1529).attr("width", 80).attr("height", 48)
  .attr("fill", "#111").attr("stroke", "#242424").attr("stroke-width", 3);
spectrum.append("text").attr("x", 3493).attr("y", 1550.5).attr("font-size", 14).attr("fill", "#e0e0e0").text("Peaking ↴");
spectrum.append("text").attr("x", 3493).attr("y", 1566.5).attr("font-size", 14).attr("font-style", "italic").attr("fill", "#d0d0d0").text("84.34 days");

function chip(left, right, top, bottom, parts, alignRight) {
  svg.append("rect").attr("x", left).attr("y", top).attr("width", right - left).attr("height", bottom - top).attr("fill", "#1f1f1f");
  const t = svg.append("text").attr("x", alignRight ? right - 5 : left + 4).attr("y", (top + bottom) / 2 + 4.5)
    .attr("text-anchor", alignRight ? "end" : "start").attr("font-size", 13).attr("fill", "#f0f0f0");
  parts.forEach((p) => t.append("tspan").attr("font-weight", p[1] ? "bold" : "normal").text(p[0]));
}
chip(181, 255, 1521, 1542, [["↥ ", 1], ["80.65", 1], [" days", 0]], false);
chip(181, 255, 1565, 1586, [["↧ ", 1], ["86.96", 1], [" days", 0]], false);
chip(2905.6, 3004, 1521, 1542, [["∿ FM: ", 1], ["1.59 days", 0]], true);
svg.append("rect").attr("x", 2885).attr("y", 1565).attr("width", 119).attr("height", 21).attr("fill", "#1f1f1f");
const avgLabel = svg.append("text").attr("x", 2984).attr("y", 1580).attr("text-anchor", "end").attr("font-size", 13).attr("fill", "#f0f0f0");
avgLabel.append("tspan").attr("font-weight", "bold").text("∿ Avg: ");
avgLabel.append("tspan").text("84.4 days");
svg.append("path").attr("d", "M2990,1575v-2.5a3,3 0 0 1 6,0v2.5").attr("fill", "none").attr("stroke", "#f5c04a").attr("stroke-width", 1.3);
svg.append("rect").attr("x", 2988).attr("y", 1575).attr("width", 10).attr("height", 7).attr("fill", "#f5c04a");

function styleAxis(g, size) {
  g.select(".domain").remove();
  g.selectAll(".tick text").attr("fill", "#a6a6a6").attr("font-size", size).attr("font-family", "Liberation Sans, sans-serif");
}
</script>
</body>
</html>
